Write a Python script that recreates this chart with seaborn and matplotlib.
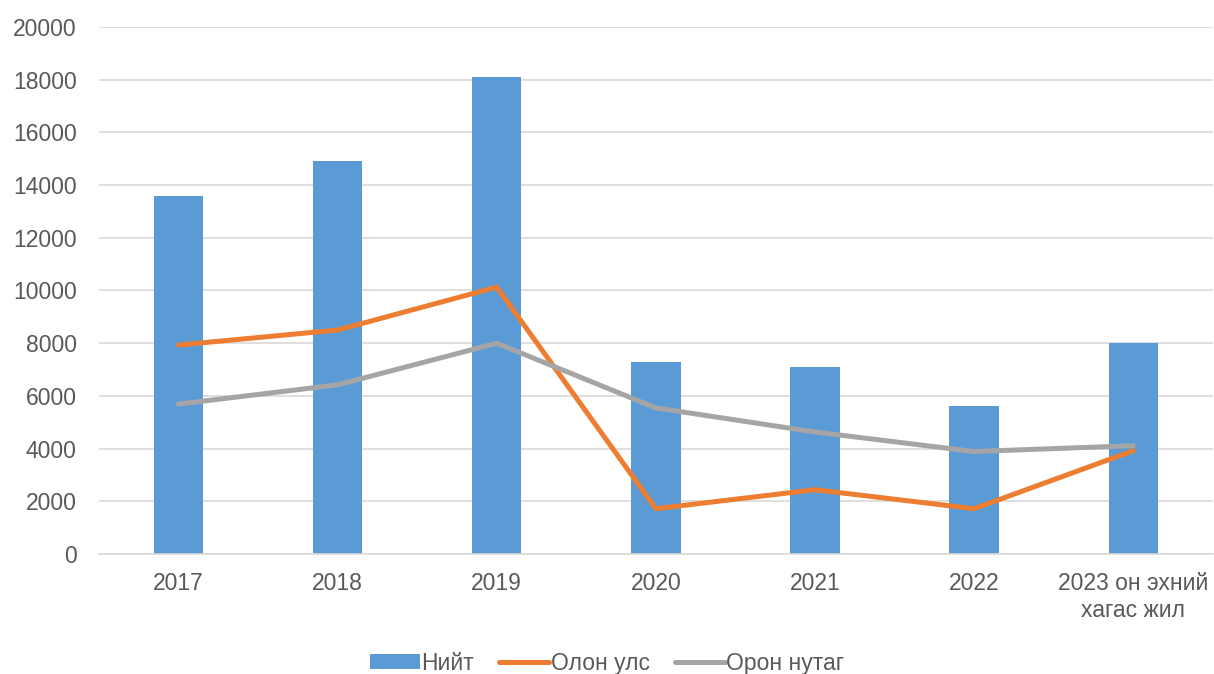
import matplotlib
matplotlib.use('Agg')
import matplotlib.pyplot as plt
import seaborn as sns
from matplotlib.patches import Patch
from matplotlib.lines import Line2D

years = ['2017', '2018', '2019', '2020', '2021', '2022', '2023 он эхний\nхагас жил']
total = [13600, 14900, 18100, 7280, 7100, 5600, 8000]
intl = [7930, 8500, 10130, 1720, 2440, 1720, 3920]
domestic = [5690, 6420, 8000, 5545, 4630, 3890, 4110]
yticks = list(range(0, 20001, 2000))

sns.set_style('white')
plt.rcParams['font.family'] = ['Liberation Sans', 'DejaVu Sans']

blue = '#5b9bd5'
orange = '#ed7d31'
gray = '#a5a5a5'
txt = '#595959'
fs = 16.5

fig = plt.figure(figsize=(12.14, 6.74), dpi=100)
ax = fig.add_axes([0.0815, 0.178, 0.9175, 0.782])

sns.barplot(x=years, y=total, color=blue, width=0.31, saturation=1,
            linewidth=0, ax=ax, zorder=2)
sns.pointplot(x=years, y=intl, color=orange, markers='', errorbar=None,
              linewidth=3.6, ax=ax, zorder=3)
sns.pointplot(x=years, y=domestic, color=gray, markers='', errorbar=None,
              linewidth=3.6, ax=ax, zorder=3)
for ln in ax.lines:
    ln.set_solid_capstyle('round')
    ln.set_solid_joinstyle('round')

ax.set_ylim(0, 20000)
ax.set_xlim(-0.5, len(years) - 0.5)
ax.set_yticks(yticks)
ax.set_yticklabels([str(v) for v in yticks])
ax.grid(axis='y', color='#d9d9d9', linewidth=1.2, zorder=0)
ax.set_axisbelow(True)
for s in ['top', 'right', 'left']:
    ax.spines[s].set_visible(False)
ax.spines['bottom'].set_color('#d9d9d9')
ax.spines['bottom'].set_linewidth(1.2)
ax.tick_params(axis='both', length=0, labelsize=fs, labelcolor=txt)
ax.tick_params(axis='x', pad=13)
ax.tick_params(axis='y', pad=16)
ax.set_xlabel('')
ax.set_ylabel('')

handles = [Patch(facecolor=blue, edgecolor='none'),
           Line2D([0], [0], color=orange, linewidth=3.6),
           Line2D([0], [0], color=gray, linewidth=3.6)]
fig.legend(handles, ['Нийт', 'Олон улс', 'Орон нутаг'], loc='center',
           bbox_to_anchor=(0.5, 0.016), ncol=3, frameon=False, fontsize=fs,
           labelcolor=txt, handlelength=2.2, handleheight=0.6,
           handletextpad=0.05, columnspacing=1.1)

fig.savefig('out.png', dpi=100)
